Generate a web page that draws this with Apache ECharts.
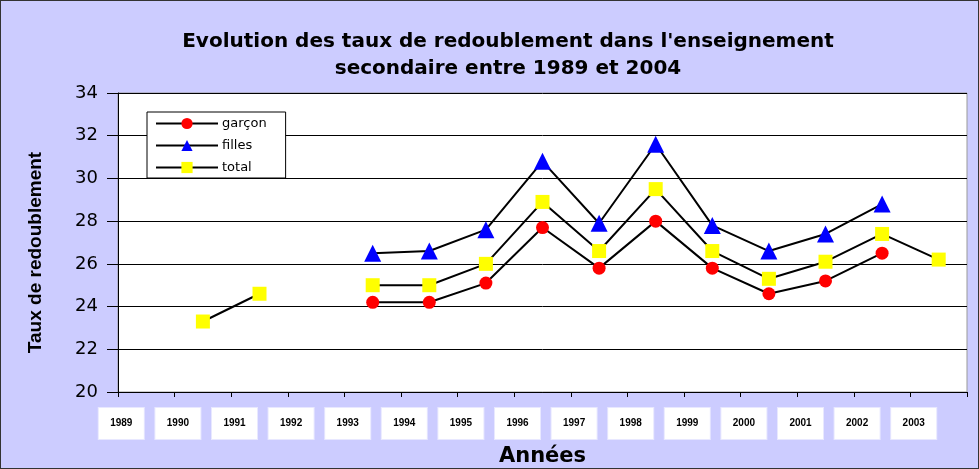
<!DOCTYPE html>
<html>
<head>
<meta charset="utf-8">
<script src="https://cdn.jsdelivr.net/npm/echarts@6/dist/echarts.min.js"></script>
<style>
  html, body { margin: 0; padding: 0; background: #ccccff; }
  #chart { width: 979px; height: 469px; box-sizing: border-box; border: 1px solid #333; }
</style>
</head>
<body>
<div id="chart"></div>
<script>
// Années (axe X)
const years = ['1989', '1990', '1991', '1992', '1993', '1994', '1995', '1996',
  '1997', '1998', '1999', '2000', '2001', '2002', '2003'];

// taux de redoublement (%)
const garcon = [null, null, null, null, 24.2, 24.2, 25.1, 27.7, 25.8, 28.0, 25.8, 24.6, 25.2, 26.5, null];
const filles = [null, null, null, null, 26.5, 26.6, 27.6, 30.8, 27.9, 31.6, 27.8, 26.6, 27.4, 28.8, null];
const total = [null, 23.3, 24.6, null, 25.0, 25.0, 26.0, 28.9, 26.6, 29.5, 26.6, 25.3, 26.1, 27.4, 26.2];

const yTicks = { min: 20, max: 34, step: 2 };

const font = "'Liberation Sans', Arial, sans-serif";
const wide = "'DejaVu Sans', 'Liberation Sans', sans-serif";
const chart = echarts.init(document.getElementById('chart'));

function serie(name, data, symbol, size, color) {
  return {
    name: name,
    type: 'line',
    data: data,
    symbol: symbol,
    symbolSize: size,
    connectNulls: false,
    lineStyle: { color: '#000', width: 2 },
    itemStyle: { color: color, borderWidth: 0 },
    emphasis: { disabled: true }
  };
}

chart.setOption({
  backgroundColor: '#ccccff',
  animation: false,
  textStyle: { fontFamily: font },
  title: {
    text: "Evolution des taux de redoublement dans l'enseignement\nsecondaire entre 1989 et 2004",
    left: 502,
    textAlign: 'center',
    top: 22,
    textStyle: { fontSize: 20, fontWeight: 'bold', color: '#000', lineHeight: 27, fontFamily: wide }
  },
  legend: {
    orient: 'vertical',
    left: 146,
    top: 111,
    padding: [5, 19, 4, 8],
    itemGap: 9,
    itemWidth: 62,
    itemHeight: 14,
    backgroundColor: '#fff',
    borderColor: '#000',
    borderWidth: 1,
    borderRadius: 0,
    textStyle: { fontSize: 13, color: '#000', fontFamily: wide, padding: [0, 0, 0, -1] },
    data: ['garçon', 'filles', 'total']
  },
  grid: { left: 117, right: 11, top: 92, bottom: 76, outerBoundsMode: 'none' },
  xAxis: {
    type: 'category',
    data: years,
    name: 'Années',
    nameLocation: 'middle',
    nameGap: 54,
    nameTextStyle: { fontSize: 21, fontWeight: 'bold', color: '#000', fontFamily: wide },
    axisLine: { lineStyle: { color: '#000', width: 1 } },
    axisTick: { show: true, length: 5, lineStyle: { color: '#000' } },
    axisLabel: {
      interval: 0,
      margin: 16,
      formatter: v => '{b|' + v + '}{s|}',
      rich: {
        b: {
          backgroundColor: '#fff',
          width: 45,
          height: 31,
          align: 'center',
          fontSize: 10,
          fontWeight: 'bold',
          fontFamily: font,
          color: '#000',
          borderColor: '#e8e8ff',
          borderWidth: 1
        },
        s: { width: 50 }
      }
    }
  },
  yAxis: {
    type: 'value',
    min: yTicks.min,
    max: yTicks.max,
    interval: yTicks.step,
    name: 'Taux de redoublement',
    nameLocation: 'middle',
    nameGap: 73,
    nameTextStyle: { fontSize: 19, fontWeight: 'bold', color: '#000', fontFamily: font, padding: [0, 20, 0, 0] },
    axisLine: { show: true, lineStyle: { color: '#000', width: 1 } },
    axisTick: { show: true, length: 11, lineStyle: { color: '#000' } },
    axisLabel: { fontSize: 18, color: '#000', margin: 20, fontFamily: wide },
    splitLine: { lineStyle: { color: '#000', width: 1 } }
  },
  series: [
    serie('garçon', garcon, 'circle', 13, '#ff0000'),
    serie('filles', filles, 'triangle', 17, '#0000ff'),
    serie('total', total, 'rect', 14, '#ffff00')
  ]
});

// fond blanc de la zone de tracé
chart.setOption({
  grid: { show: true, backgroundColor: '#fff', borderColor: '#999', borderWidth: 1 }
});
</script>
</body>
</html>
